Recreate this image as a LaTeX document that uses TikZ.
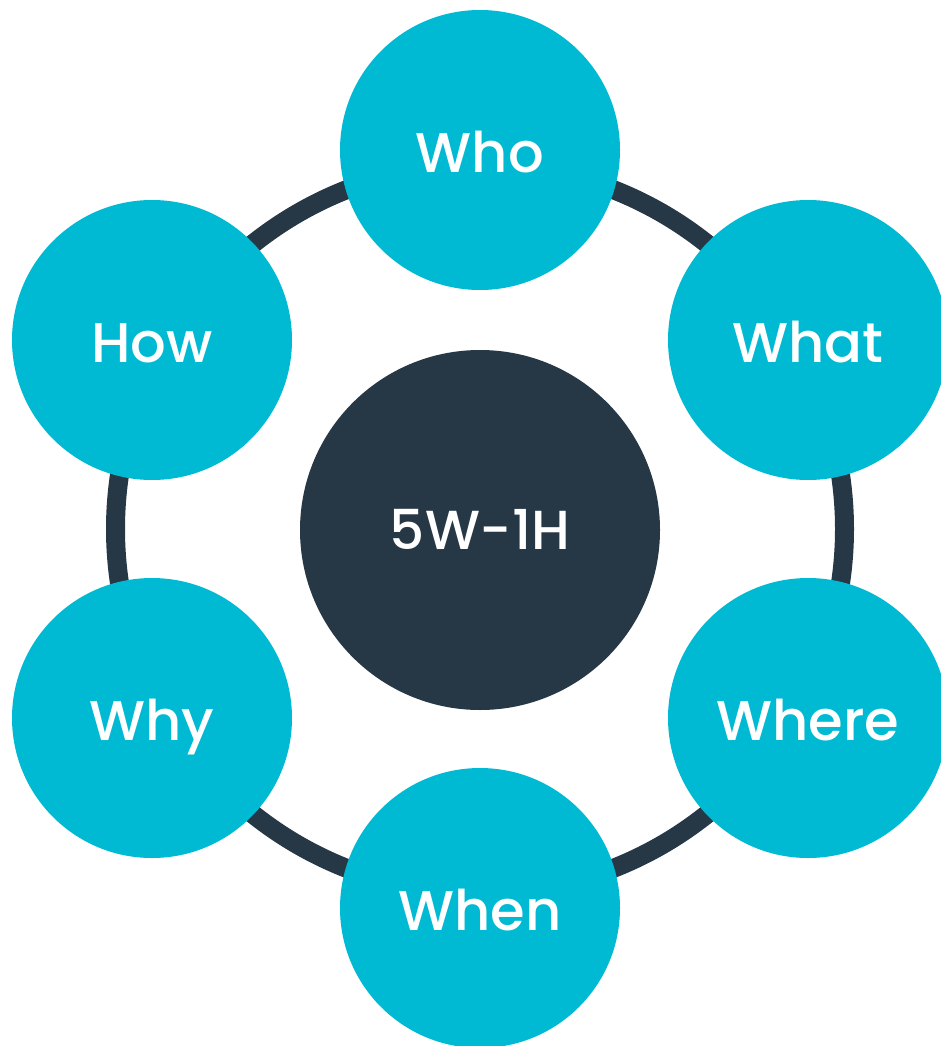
\documentclass[tikz,border=0pt]{standalone}
\usepackage{fontspec}
\setmainfont{Poppins}
\newfontfamily\medfont{Poppins Medium}
\definecolor{cyanc}{HTML}{00BAD4}
\definecolor{darkc}{HTML}{263746}
\tikzset{
  wnode/.style={circle, fill=cyanc, minimum size=280pt, inner sep=0pt},
  hub/.style={circle, fill=darkc, minimum size=360pt, inner sep=0pt, text=white,
    font=\medfont\fontsize{55}{64}\selectfont, text height=38.5pt, text depth=0pt},
  ringline/.style={draw=darkc, line width=19pt},
  lbl/.style={text=white, inner sep=0pt, font=\medfont\fontsize{56}{64}\selectfont,
    text height=39pt, text depth=0pt}
}
\begin{document}
\begin{tikzpicture}[x=1pt,y=-1pt]
\useasboundingbox (0,0) rectangle (940,1046);
\coordinate (c) at (480,529);
\draw[ringline] (c) circle[radius=364.5];
\node[hub] (hub) at (480,530) {5W-1H};
\node[wnode] (who) at (480,150) {};
\node[wnode] (what) at (808,340) {};
\node[wnode] (where) at (808,718) {};
\node[wnode] (when) at (480,908) {};
\node[wnode] (why) at (152,718) {};
\node[wnode] (how) at (152,340) {};
\foreach \n/\t in {who/Who,what/What,where/Where,when/When,why/Why,how/How}
  \node[lbl] (\n-t) at ([yshift=-3pt]\n.center) {\t};
\end{tikzpicture}
\end{document}
